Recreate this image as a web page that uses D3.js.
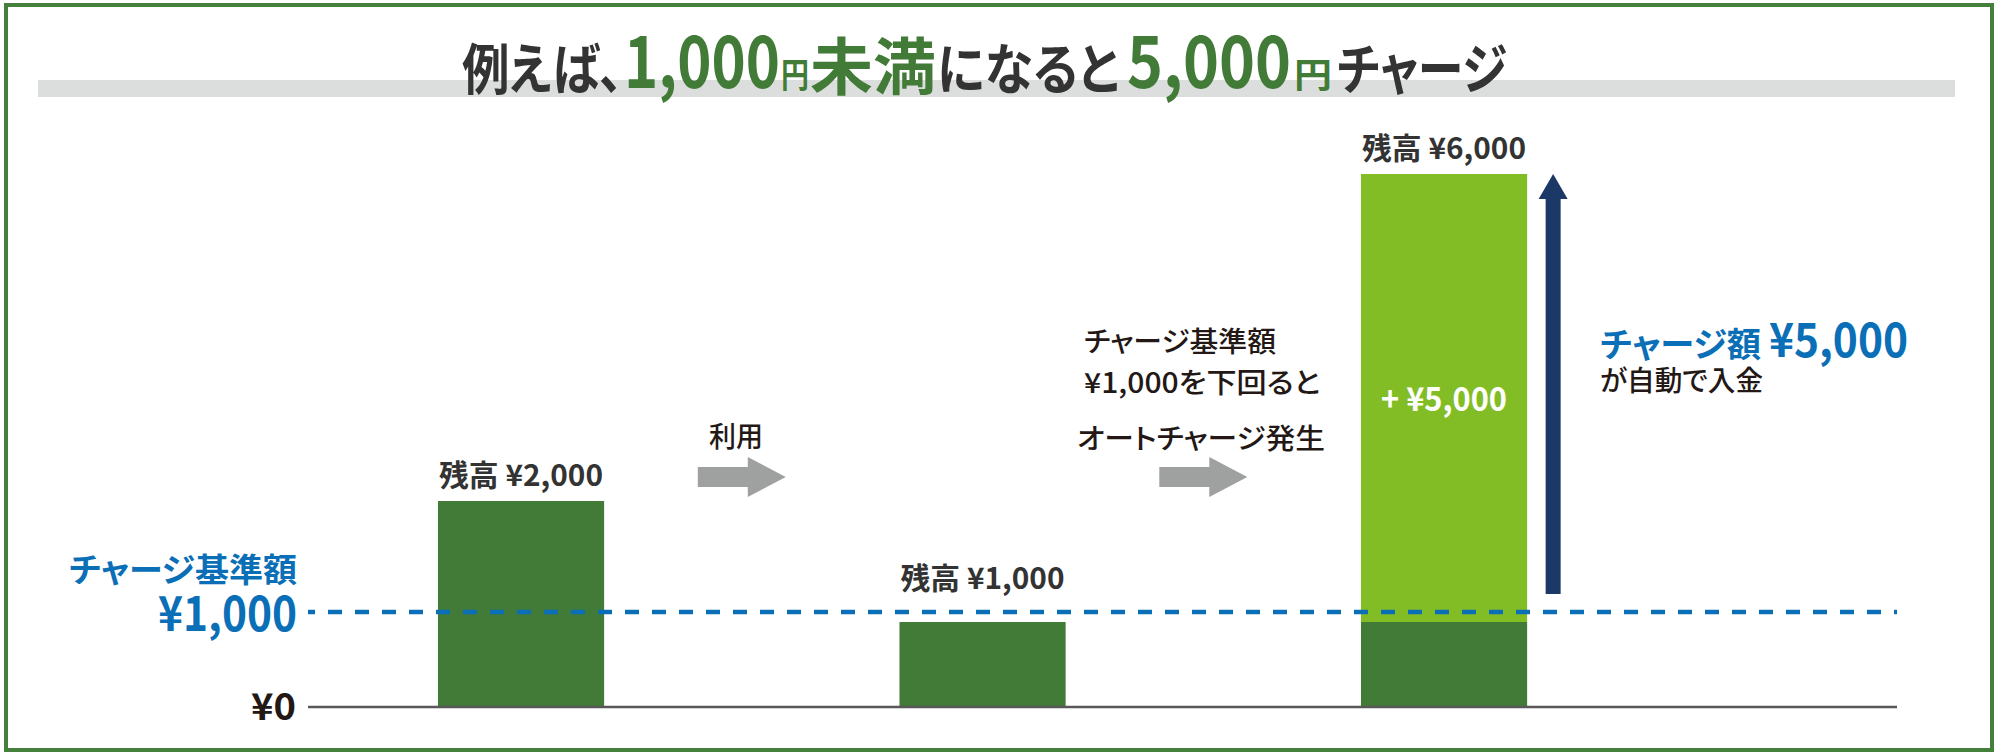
<!DOCTYPE html>
<html>
<head>
<meta charset="utf-8">
<script src="https://cdn.jsdelivr.net/npm/d3@7"></script>
<style>
  body { margin: 0; background: #fff; }
  svg { display: block; font-family: "Noto Sans CJK JP", "Noto Sans", sans-serif; font-feature-settings: "palt"; }
</style>
</head>
<body>
<div id="chart"></div>
<script>
// balances at each step (yen)
const steps = ["開始", "利用後", "オートチャージ後"];
const baseBalance = [2000, 1000, 1000];
const autoCharge = [0, 0, 5000];
const balanceLabels = ["残高 ¥2,000", "残高 ¥1,000", "残高 ¥6,000"];
const chargeThreshold = 1000;
const chargeAmount = 5000;

// the picture is an illustration, not to scale: stops of the piecewise y scale
const scaleStops = [0, 1000, 2000, 6000];

const titleParts = ["例えば、", "1,000", "円", "未満", "になると", "5,000", "円", "チャージ"];
const stepNotes = [["利用"], ["チャージ基準額", "¥1,000を下回ると", "オートチャージ発生"]];

const W = 2000, H = 754;
const darkGreen = "#417b37", lightGreen = "#83bd26", blue = "#0a6fb6",
  navy = "#1b3866", arrowGray = "#9fa0a0", ink = "#231815", titleInk = "#333333";

const svg = d3.select("#chart").append("svg")
  .attr("width", W)
  .attr("height", H)
  .attr("viewBox", [0, 0, W, H]);

svg.append("rect")
  .attr("x", 6).attr("y", 5)
  .attr("width", 1986).attr("height", 745)
  .attr("fill", "#fff")
  .attr("stroke", "#44803b")
  .attr("stroke-width", 4);

// title band
svg.append("rect")
  .attr("x", 38).attr("y", 80)
  .attr("width", 1917).attr("height", 17)
  .attr("fill", "#dcdddd");

const titleStyle = [
  {x: 462, len: 161, size: 55, y: 89, fill: titleInk},
  {x: 624, len: 156, size: 72, y: 88, fill: darkGreen},
  {x: 781, len: 28, size: 35, y: 88, fill: darkGreen},
  {x: 810, len: 126, size: 62, y: 90, fill: darkGreen},
  {x: 937, len: 182, size: 55, y: 89, fill: titleInk},
  {x: 1127, len: 164, size: 72, y: 88, fill: darkGreen},
  {x: 1294, len: 38, size: 35, y: 88, fill: darkGreen},
  {x: 1337, len: 170, size: 55, y: 89, fill: titleInk}
];

svg.append("g")
  .selectAll("text")
  .data(titleParts)
  .join("text")
    .attr("x", (d, i) => titleStyle[i].x)
    .attr("y", (d, i) => titleStyle[i].y)
    .attr("font-size", (d, i) => titleStyle[i].size)
    .attr("font-weight", 700)
    .attr("fill", (d, i) => titleStyle[i].fill)
    .attr("textLength", (d, i) => titleStyle[i].len)
    .attr("lengthAdjust", "spacingAndGlyphs")
    .text(d => d);

const x = d3.scaleBand()
  .domain(steps)
  .range([142.6, 1822.5])
  .padding(0.64);

const y = d3.scaleLinear()
  .domain(scaleStops)
  .range([706, 622, 501, 174]);

const thresholdY = y(chargeThreshold) - 10;
const lineX0 = 308, lineX1 = 1897;

const stacks = steps.map((s, i) => ({step: s, base: baseBalance[i], charge: autoCharge[i], label: balanceLabels[i]}));

// bars: base balance then the charged part on top
svg.append("g")
  .selectAll("rect")
  .data(stacks)
  .join("rect")
    .attr("x", d => x(d.step))
    .attr("y", d => y(d.base))
    .attr("width", x.bandwidth())
    .attr("height", d => y(0) - y(d.base))
    .attr("fill", darkGreen);

svg.append("g")
  .selectAll("rect")
  .data(stacks.filter(d => d.charge > 0))
  .join("rect")
    .attr("x", d => x(d.step))
    .attr("y", d => y(d.base + d.charge))
    .attr("width", x.bandwidth())
    .attr("height", d => y(d.base) - y(d.base + d.charge))
    .attr("fill", lightGreen);

svg.append("g")
  .selectAll("text")
  .data(stacks.filter(d => d.charge > 0))
  .join("text")
    .attr("x", d => x(d.step) + x.bandwidth() / 2)
    .attr("y", d => (y(d.base) + y(d.base + d.charge)) / 2 + 13)
    .attr("text-anchor", "middle")
    .attr("font-size", 33)
    .attr("font-weight", 700)
    .attr("fill", "#fff")
    .attr("textLength", 126)
    .attr("lengthAdjust", "spacingAndGlyphs")
    .text(d => "+ ¥" + d3.format(",")(d.charge));

// balance labels, kept clear of the threshold line
svg.append("g")
  .selectAll("text")
  .data(stacks)
  .join("text")
    .attr("x", d => x(d.step) + x.bandwidth() / 2)
    .attr("y", d => Math.min(y(d.base + d.charge), thresholdY - 8) - 15)
    .attr("text-anchor", "middle")
    .attr("font-size", 30)
    .attr("font-weight", 700)
    .attr("fill", titleInk)
    .attr("textLength", 164)
    .attr("lengthAdjust", "spacingAndGlyphs")
    .text(d => d.label);

// threshold line and zero line
svg.append("line")
  .attr("x1", lineX0).attr("x2", lineX1)
  .attr("y1", thresholdY).attr("y2", thresholdY)
  .attr("stroke", blue)
  .attr("stroke-width", 4.5)
  .attr("stroke-dasharray", "14 13")
  .attr("stroke-dashoffset", 7);

svg.append("line")
  .attr("x1", lineX0).attr("x2", lineX1)
  .attr("y1", y(0) + 1).attr("y2", y(0) + 1)
  .attr("stroke", "#595757")
  .attr("stroke-width", 2.5);

svg.append("text")
  .attr("x", 296).attr("y", y(0) + 14)
  .attr("text-anchor", "end")
  .attr("font-size", 37)
  .attr("font-weight", 700)
  .attr("fill", ink)
  .attr("textLength", 45)
  .attr("lengthAdjust", "spacingAndGlyphs")
  .text("¥0");

svg.append("text")
  .attr("x", 297).attr("y", thresholdY - 30)
  .attr("text-anchor", "end")
  .attr("font-size", 33)
  .attr("font-weight", 700)
  .attr("fill", blue)
  .attr("textLength", 228)
  .attr("lengthAdjust", "spacingAndGlyphs")
  .text("チャージ基準額");

svg.append("text")
  .attr("x", 297).attr("y", thresholdY + 19)
  .attr("text-anchor", "end")
  .attr("font-size", 48)
  .attr("font-weight", 700)
  .attr("fill", blue)
  .attr("textLength", 139)
  .attr("lengthAdjust", "spacingAndGlyphs")
  .text("¥" + d3.format(",")(chargeThreshold));

// grey step arrows between the bars
const arrowY = 477;
const arrowPath = cx => d3.line()([
  [cx - 44, arrowY - 10], [cx + 6, arrowY - 10], [cx + 6, arrowY - 20], [cx + 44, arrowY],
  [cx + 6, arrowY + 20], [cx + 6, arrowY + 10], [cx - 44, arrowY + 10]
]) + "Z";

const gaps = d3.pairs(steps).map(([a, b]) => (x(a) + x.bandwidth() + x(b)) / 2 - 10);

svg.append("g")
  .selectAll("path")
  .data(gaps)
  .join("path")
    .attr("d", arrowPath)
    .attr("fill", arrowGray);

const noteStyle = [
  [{x: 709, y: 447, len: 54}],
  [{x: 1084, y: 352, len: 192}, {x: 1084, y: 393, len: 236}, {x: 1077, y: 449, len: 248}]
];

stepNotes.forEach((lines, i) => {
  svg.append("g")
    .selectAll("text")
    .data(lines)
    .join("text")
      .attr("x", (d, j) => noteStyle[i][j].x)
      .attr("y", (d, j) => noteStyle[i][j].y)
      .attr("font-size", 28)
      .attr("font-weight", 500)
      .attr("fill", ink)
      .attr("textLength", (d, j) => noteStyle[i][j].len)
      .attr("lengthAdjust", "spacingAndGlyphs")
      .text(d => d);
});

// navy charge arrow
const last = stacks[stacks.length - 1];
const ax = x(last.step) + x.bandwidth() + 26;
const tipY = y(last.base + last.charge);
svg.append("path")
  .attr("d", d3.line()([
    [ax - 7.5, thresholdY - 18], [ax - 7.5, tipY + 25], [ax - 14.5, tipY + 25], [ax, tipY],
    [ax + 14.5, tipY + 25], [ax + 7.5, tipY + 25], [ax + 7.5, thresholdY - 18]
  ]) + "Z")
  .attr("fill", navy);

svg.append("text")
  .attr("x", 1600).attr("y", 357)
  .attr("font-size", 34)
  .attr("font-weight", 700)
  .attr("fill", blue)
  .attr("textLength", 161)
  .attr("lengthAdjust", "spacingAndGlyphs")
  .text("チャージ額");

svg.append("text")
  .attr("x", 1769).attr("y", 357)
  .attr("font-size", 47)
  .attr("font-weight", 700)
  .attr("fill", blue)
  .attr("textLength", 139)
  .attr("lengthAdjust", "spacingAndGlyphs")
  .text("¥" + d3.format(",")(chargeAmount));

svg.append("text")
  .attr("x", 1600).attr("y", 391)
  .attr("font-size", 28)
  .attr("font-weight", 500)
  .attr("fill", ink)
  .attr("textLength", 163)
  .attr("lengthAdjust", "spacingAndGlyphs")
  .text("が自動で入金");
</script>
</body>
</html>
